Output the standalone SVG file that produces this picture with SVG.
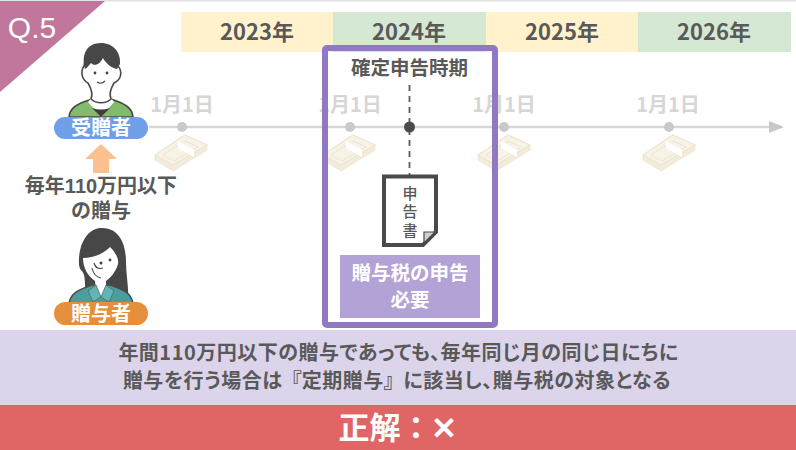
<svg xmlns="http://www.w3.org/2000/svg" width="796" height="450" viewBox="0 0 796 450">
<style>
text{font-family:"Noto Sans CJK JP","Liberation Sans",sans-serif;font-weight:700;text-anchor:middle}
.yr{font-size:22px;fill:#595959}
.d{font-size:20px;fill:#d6d6d6}
.dk{fill:#595959}
.w{fill:#fff}
.dot{fill:#c9c9c9}
.pal{font-feature-settings:"palt";letter-spacing:.5px}
text.tight{font-family:"Liberation Sans","Noto Sans CJK JP",sans-serif}
</style>
<defs>
<g id="money" opacity=".8">
<path d="M-26 3V8L-8 19 26-2V-7L-8 13Z" fill="#f1e8d2" stroke="#eadfc6" stroke-width=".8"/>
<path d="M-26 3L4-17 26-7-8 13Z" fill="#f7f1e2" stroke="#eadfc6" stroke-width="1.200"/>
<path d="M-18 3L4-11 17-5-7 9Z" fill="none" stroke="#eadfc6"/>
<path d="M-3-11L13-2V5L-3-4Z" fill="#fff"/>
</g>
</defs>
<rect width="796" height="450" fill="#fff"/>
<rect width="796" height="1.500" fill="#dfe3e3"/>
<g id="q5"><path d="M0 1H105L0 92Z" fill="#c0779b"/><text x="32" y="38" font-size="30" class="w" style="font-weight:400;font-family:'Liberation Sans',sans-serif">Q.5</text></g>
<g id="years">
<rect x="181" y="12" width="152" height="40" fill="#fff2cc"/><rect x="333" y="12" width="153" height="40" fill="#d5e8d4"/><rect x="486" y="12" width="152" height="40" fill="#fff2cc"/><rect x="638" y="12" width="153" height="40" fill="#d5e8d4"/>
<text x="257" y="40" class="yr">2023年</text><text x="409" y="40" class="yr">2024年</text><text x="562" y="40" class="yr">2025年</text><text x="714" y="40" class="yr">2026年</text>
</g>
<g id="connectors">
<path d="M149 127H771" stroke="#d6d6d6" stroke-width="2.600" fill="none"/>
<path d="M769 121L784 127 769 133Z" fill="#c9c9c9"/>
<path d="M409.500 85V176" stroke="#595959" stroke-width="1.800" stroke-dasharray="6 5" fill="none"/>
</g>
<g id="timeline">
<text x="182" y="112" class="d">1月1日</text><text x="350" y="112" class="d">1月1日</text><text x="504" y="112" class="d">1月1日</text><text x="668" y="112" class="d">1月1日</text>
<circle cx="182" cy="127" r="5" class="dot"/><circle cx="350" cy="127" r="5" class="dot"/><circle cx="504" cy="127" r="5" class="dot"/><circle cx="669" cy="127" r="5" class="dot"/>
<use href="#money" x="181" y="152"/><use href="#money" x="349" y="152"/><use href="#money" x="504" y="152"/><use href="#money" x="669" y="152"/>
</g>
<g id="period">
<rect x="325" y="48" width="170" height="277" rx="2" fill="none" stroke="#9079c2" stroke-width="6"/>
<text x="409.500" y="75" font-size="19.500" class="dk">確定申告時期</text>
<circle cx="409.500" cy="127" r="5.500" fill="#4a4a4a"/>
</g>
<g id="doc">
<path d="M384 176.500H436V232L423 245H384Z" fill="#fff" stroke="#4a4a4a" stroke-width="4"/>
<path d="M424 243V232H435Z" fill="#d0d0d0" stroke="#4a4a4a" stroke-width="1.200"/>
<text font-size="15" class="dk tight" style="font-weight:500"><tspan x="410" y="198.500">申</tspan><tspan x="410" y="217">告</tspan><tspan x="410" y="235.500">書</tspan></text>
</g>
<g id="need">
<rect x="340" y="255" width="140" height="63" fill="#b3a2d5"/>
<text font-size="19.500" class="w"><tspan x="410" y="280">贈与税の申告</tspan><tspan x="410" y="307">必要</tspan></text>
</g>
<g id="man">
<path d="M69 117C70 108 76 104 92 99L111 99C126 104 132 108 133 117Z" fill="#82bb6d" stroke="#4a4a4a" stroke-width="1.600"/>
<path d="M88 102L100 116H102L114 102 110 97H92Z" fill="#fff"/>
<path d="M92 108Q101 111 110 108L101 117Z" fill="#3f3f3f"/>
<path d="M84 66C80 72 82 80 88 83C91 88 93 94 91 99C96 104 106 104 111 99C109 94 111 88 114 83C121 80 123 72 118 66L116 56H86Z" fill="#fff" stroke="#4a4a4a" stroke-width="1.600"/>
<path d="M85 69C81 54 87 43 101 43C113 43 121 52 120 64L117 69C112 68 106 64 103 58C100 64 95 67 91 63C89 65 87 68 85 69Z" fill="#474747"/>
<circle cx="95" cy="73" r="1.400" fill="#444"/><circle cx="107" cy="73" r="1.400" fill="#444"/>
<path d="M97 82Q101 85 105 81" fill="none" stroke="#444" stroke-width="1.100"/>
</g>
<g id="recv"><rect x="54" y="117" width="94" height="22" rx="11" fill="#6f9fe8"/><text x="101" y="135" font-size="20" class="w">受贈者</text></g>
<g id="up"><path d="M101 144L117 159H109V173H93V159H85Z" fill="#fac090"/></g>
<text font-size="20" class="dk tight"><tspan x="101" y="193">毎年110万円以下</tspan><tspan x="101" y="218">の贈与</tspan></text>
<g id="woman">
<path d="M85 290C86 262 78 278 79 258C81 236 92 228 102 228C118 228 126 242 126 262C126 275 129 288 128 300H80Z" fill="#474747"/>
<path d="M69 303C71 293 78 290 92 285L110 285C124 290 131 293 133 303Z" fill="#4c9d9e" stroke="#4a4a4a" stroke-width="1.500"/>
<path d="M83 258C92 258 104 254 110 247C115 252 119 258 118 264C116 272 110 278 106 281V288L101 297 96 289 95 281C88 276 83 268 83 258Z" fill="#fff"/>
<path d="M96 285L88 291 93 302 101 297 109 302 114 291 106 285 101 297Z" fill="#67b3b3" stroke="#3d6f70" stroke-width=".8"/>
<path d="M94 263Q96 270 103 268M92 268Q94 277 101 278" fill="none" stroke="#444" stroke-width="1.100"/>
<circle cx="101" cy="263" r="1.500" fill="#444"/><circle cx="110" cy="260" r="1.400" fill="#444"/>
</g>
<g id="send"><rect x="54" y="302" width="94" height="23" rx="11.500" fill="#e58f3c"/><text x="101" y="321" font-size="20" class="w">贈与者</text></g>
<g id="note">
<rect y="330" width="796" height="75" fill="#dcd4ea"/>
<text x="398.500" y="360" font-size="20" class="dk pal">年間110万円以下の贈与であっても、毎年同じ月の同じ日にちに</text>
<text x="397" y="388" font-size="20" class="dk pal">贈与を行う場合は<tspan dx="9">『定期贈与』</tspan><tspan dx="9">に該当し、贈与税の対象となる</tspan></text>
</g>
<g id="answer">
<rect y="405" width="796" height="45" fill="#e06666"/>
<text x="398" y="439" font-size="31" class="w">正解：✕</text>
</g>
</svg>
